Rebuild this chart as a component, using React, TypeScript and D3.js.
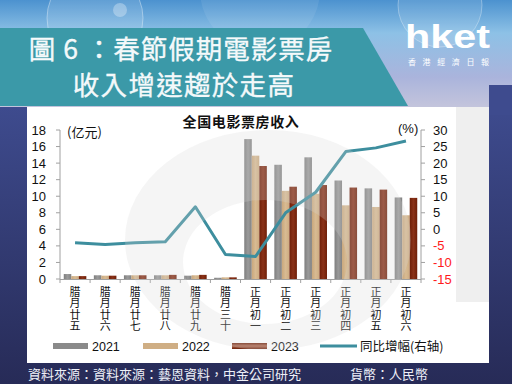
import * as d3 from "d3";

// 全国电影票房收入 (亿元) + 同比增幅 (%)
const categories = ["腊月廿五", "腊月廿六", "腊月廿七", "腊月廿八", "腊月廿九", "腊月三十", "正月初一", "正月初二", "正月初三", "正月初四", "正月初五", "正月初六"];
const years = ["2021", "2022", "2023"];
const rev2021 = [0.6, 0.45, 0.45, 0.45, 0.4, 0.15, 16.9, 13.8, 14.7, 11.9, 10.95, 9.85];
const rev2022 = [0.35, 0.4, 0.45, 0.45, 0.45, 0.2, 14.9, 10.65, 10.3, 8.9, 8.7, 7.7];
const rev2023 = [0.35, 0.4, 0.45, 0.5, 0.5, 0.2, 13.65, 11.15, 11.35, 11.05, 10.8, 9.8];
const yoy = [-4.05, -4.6, -4.05, -3.75, 6.8, -7.6, -8.2, 5.0, 11.2, 23.5, 24.6, 26.7];
const leftTicks = [0, 2, 4, 6, 8, 10, 12, 14, 16, 18];
const rightTicks = [-15, -10, -5, 0, 5, 10, 15, 20, 25, 30];

const series = [rev2021, rev2022, rev2023];
const barFill = ["url(#g2021)", "url(#g2022)", "url(#g2023)"];
const LINE_COLOR = "#3d8e9e";

const NUM_FONT = "'Liberation Sans', Arial, sans-serif";
const SC_FONT = "'Noto Sans CJK SC', 'Liberation Sans', sans-serif";
const TC_FONT = "'Noto Sans CJK TC', 'Noto Sans CJK SC', sans-serif";

export default function App() {
  const x = d3.scaleBand<string>().domain(categories).range([60, 421]);
  const x1 = d3.scaleBand<string>().domain(years).range([0, x.bandwidth()]).paddingOuter(0.5);
  const yL = d3.scaleLinear().domain([0, 18]).range([279, 130]);
  const yR = d3.scaleLinear().domain([-15, 30]).range([279, 130]);
  const cx = (c: string) => (x(c) ?? 0) + x.bandwidth() / 2;

  const line = d3
    .line<number>()
    .x((_, i) => cx(categories[i]))
    .y((d) => yR(d));

  return (
    <svg width={512} height={384} style={{ position: "absolute", left: 0, top: 0 }}>
      <defs>
        <linearGradient id="bgTop" x1="0" y1="0" x2="0" y2="1">
          <stop offset="0" stopColor="#4c92cf" />
          <stop offset="0.3" stopColor="#8dc1e6" />
          <stop offset="0.7" stopColor="#aab4dc" />
          <stop offset="1" stopColor="#c6c6dc" />
        </linearGradient>
        <linearGradient id="bgBot" x1="0" y1="0" x2="0" y2="1">
          <stop offset="0" stopColor="#3e4b8e" />
          <stop offset="1" stopColor="#272b57" />
        </linearGradient>
        <linearGradient id="g2021" x1="0" y1="0" x2="1" y2="0">
          <stop offset="0" stopColor="#7e7e7e" />
          <stop offset="0.5" stopColor="#9a9a9a" />
          <stop offset="1" stopColor="#828282" />
        </linearGradient>
        <linearGradient id="g2022" x1="0" y1="0" x2="1" y2="0">
          <stop offset="0" stopColor="#c9a77c" />
          <stop offset="0.5" stopColor="#d8bb93" />
          <stop offset="1" stopColor="#cdab80" />
        </linearGradient>
        <linearGradient id="g2023" x1="0" y1="0" x2="1" y2="0">
          <stop offset="0" stopColor="#6e1f08" />
          <stop offset="0.5" stopColor="#8a3218" />
          <stop offset="1" stopColor="#6e1f08" />
        </linearGradient>
        <linearGradient id="l2023" x1="0" y1="0" x2="0" y2="1">
          <stop offset="0" stopColor="#6e1f08" />
          <stop offset="0.5" stopColor="#b06a50" />
          <stop offset="1" stopColor="#6e1f08" />
        </linearGradient>
        <clipPath id="panel">
          <rect x={27} y={107} width={462} height={256} />
        </clipPath>
      </defs>

      {/* background */}
      <rect x={0} y={0} width={512} height={110} fill="url(#bgTop)" />
      <rect x={0} y={107} width={512} height={277} fill="url(#bgBot)" />
      <rect x={489} y={85} width={23} height={30} fill="#3e4b8e" />
      <circle cx={95} cy={18} r={48} fill="#ffffff" fillOpacity={0.12} stroke="#ffffff" strokeOpacity={0.35} />
      <circle cx={120} cy={10} r={7} fill="#ffffff" fillOpacity={0.3} />
      <circle cx={440} cy={5} r={42} fill="#ffffff" fillOpacity={0.1} stroke="#ffffff" strokeOpacity={0.3} />
      <circle cx={260} cy={-10} r={60} fill="#ffffff" fillOpacity={0.08} />

      {/* title banner */}
      <path d="M0,28 L363,28 L408,106 L0,106 Z" fill="#3b99a8" />
      <g fill="#f2f8fa" stroke="#ffffff" strokeWidth={0.3} fontFamily={TC_FONT} fontSize={26.5} textAnchor="middle">
        <text x={181} y={59} letterSpacing={1}>圖 6 ：春節假期電影票房</text>
        <text x={184} y={95} letterSpacing={1.3}>收入增速趨於走高</text>
      </g>

      {/* logo */}
      <text x={405} y={48} fill="#ffffff" fontFamily={NUM_FONT} fontWeight="bold" fontSize={34} textLength={85} lengthAdjust="spacingAndGlyphs">hket</text>
      <text x={408} y={65} fill="#ffffff" fontFamily={TC_FONT} fontSize={8} textLength={81}>香港經濟日報</text>

      {/* chart panel */}
      <rect x={27} y={107} width={462} height={256} fill="#ffffff" />
      <rect x={456} y={107} width={33} height={195} fill="#efefef" />

      <text x={241} y={127} textAnchor="middle" fontFamily={SC_FONT} fontWeight="bold" fontSize={14} letterSpacing={0.6} fill="#111">全国电影票房收入</text>

      {/* bars */}
      {series.map((vals, s) =>
        vals.map((v, i) => (
          <rect
            key={`${s}-${i}`}
            x={(x(categories[i]) ?? 0) + (x1(years[s]) ?? 0)}
            y={yL(v)}
            width={x1.bandwidth()}
            height={yL(0) - yL(v)}
            fill={barFill[s]}
          />
        ))
      )}

      {/* axes */}
      <g stroke="#a0a0a0" strokeWidth={1}>
        <line x1={60} x2={60} y1={130} y2={279} />
        <line x1={421} x2={421} y1={130} y2={279} />
        <line x1={60} x2={421} y1={279.5} y2={279.5} />
        {leftTicks.map((t) => (
          <line key={t} x1={56} x2={60} y1={yL(t)} y2={yL(t)} />
        ))}
        {rightTicks.map((t) => (
          <line key={t} x1={421} x2={425} y1={yR(t)} y2={yR(t)} />
        ))}
        {categories.map((c) => (
          <line key={c} x1={x(c) ?? 0} x2={x(c) ?? 0} y1={279} y2={283} />
        ))}
        <line x1={421} x2={421} y1={279} y2={283} />
      </g>
      <g fontFamily={NUM_FONT} fontSize={13}>
        {leftTicks.map((t) => (
          <text key={t} x={46} y={yL(t) + 4.5} textAnchor="end" fill="#111">{t}</text>
        ))}
        {rightTicks.map((t) => (
          <text key={t} x={433} y={yR(t) + 4.5} fill={t < 0 ? "#ff1a1a" : "#111"}>{t}</text>
        ))}
      </g>
      <text x={67} y={137} fontFamily={SC_FONT} fontSize={13} fill="#111">(亿元)</text>
      <text x={398} y={133} fontFamily={NUM_FONT} fontSize={13} fill="#111">(%)</text>

      {/* category labels, one character per line */}
      <g fontFamily={SC_FONT} fontSize={11} fill="#111" textAnchor="middle">
        {categories.map((c) =>
          c.split("").map((ch, j) => (
            <text key={c + j} x={cx(c)} y={296 + j * 11.4}>{ch}</text>
          ))
        )}
      </g>

      {/* yoy line */}
      <path d={line(yoy) ?? ""} fill="none" stroke={LINE_COLOR} strokeWidth={3} strokeLinejoin="round" />

      {/* legend */}
      <g fontFamily={NUM_FONT} fontSize={12.5} fill="#111">
        <rect x={53} y={343} width={35} height={6} fill="#8a8a8a" />
        <text x={92} y={350.5}>2021</text>
        <rect x={143} y={343} width={35} height={6} fill="#cfae84" />
        <text x={182} y={350.5}>2022</text>
        <rect x={232} y={343} width={35} height={6} fill="url(#l2023)" />
        <text x={271} y={350.5}>2023</text>
        <line x1={320} x2={357} y1={346} y2={346} stroke={LINE_COLOR} strokeWidth={3} />
        <text x={360} y={350.5} fontFamily={SC_FONT}>同比增幅(右轴)</text>
      </g>

      {/* watermark */}
      <g clipPath="url(#panel)" fill="#d8d8d8" fillOpacity={0.25}>
        <path
          fillRule="evenodd"
          d="M125,240 a143,110 0 1,0 286,0 a143,110 0 1,0 -286,0 Z M183,262 a82,62 0 1,0 164,0 a82,62 0 1,0 -164,0 Z"
        />
      </g>

      {/* footer */}
      <g fontFamily={TC_FONT} fontSize={13} fill="#eef0f8">
        <text x={28} y={379}>資料來源：資料來源：藝恩資料，中金公司研究</text>
        <text x={350} y={379}>貨幣：人民幣</text>
      </g>
    </svg>
  );
}
